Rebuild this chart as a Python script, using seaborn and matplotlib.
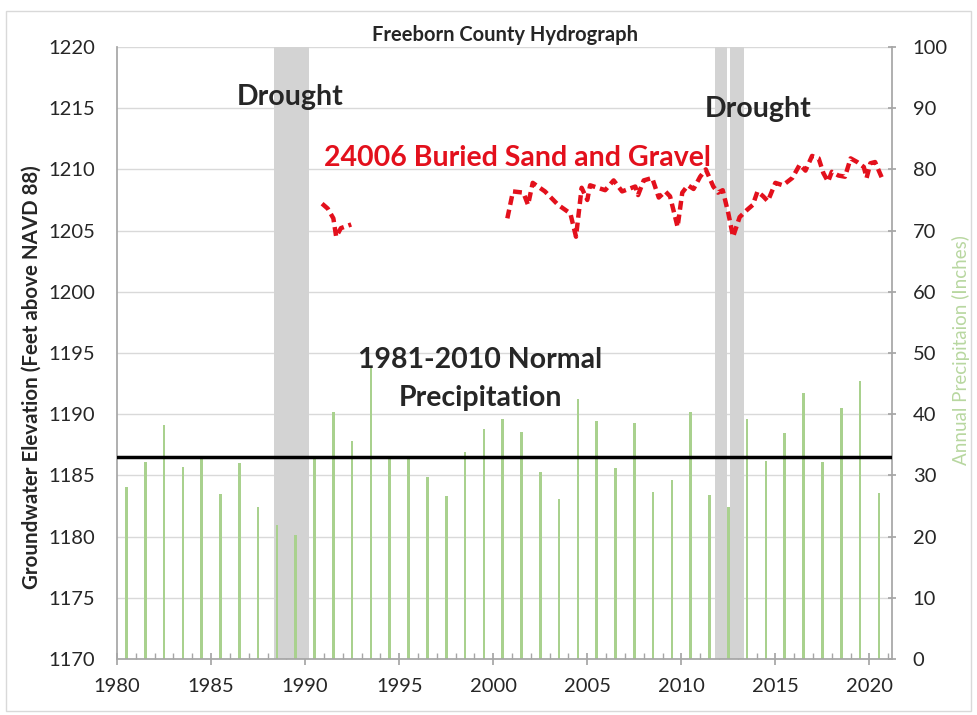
import numpy as np
import pandas as pd
import matplotlib.pyplot as plt
import matplotlib.ticker as mticker
from matplotlib.patches import Rectangle
import seaborn as sns

# annual precipitation (inches), bars sit mid-year
precip_years = list(range(1980, 2021))
precip_inches = [28.1, 32.2, 38.2, 31.4, 32.8, 27.0, 32.0, 24.8, 21.9, 20.3,
                 32.8, 40.4, 35.6, 47.5, 32.8, 32.8, 29.7, 26.6, 33.8, 37.6,
                 39.2, 37.1, 30.6, 26.1, 42.5, 38.9, 31.2, 38.6, 27.3, 29.2,
                 40.4, 26.8, 24.8, 39.2, 32.4, 36.9, 43.5, 32.2, 41.0, 45.4,
                 27.1]
normal_precip = 33.0

# well 24006 groundwater elevation (ft above NAVD 88)
well_t1 = [1990.9, 1991.2, 1991.5, 1991.65, 1991.9, 1992.45]
well_e1 = [1207.2, 1206.8, 1206.0, 1204.5, 1205.2, 1205.5]
well_t2 = [2000.75, 2001.05, 2001.6, 2001.85, 2002.1, 2002.75, 2003.45, 2004.1,
           2004.4, 2004.7, 2005.0, 2005.15, 2005.95, 2006.4, 2006.85, 2007.55,
           2007.7, 2008.0, 2008.45, 2008.8, 2009.15, 2009.4, 2009.8, 2010.05,
           2010.35, 2010.65, 2011.0, 2011.3, 2011.7, 2011.95, 2012.2, 2012.5,
           2012.75, 2013.1, 2013.5, 2013.8, 2014.05, 2014.35, 2014.6, 2015.0,
           2015.4, 2015.9, 2016.3, 2016.6, 2016.95, 2017.3, 2017.55, 2017.8,
           2018.0, 2018.35, 2018.7, 2019.0, 2019.35, 2019.7, 2019.85, 2020.05,
           2020.3, 2020.75]
well_e2 = [1206.0, 1208.2, 1208.1, 1207.1, 1208.9, 1208.2, 1207.1, 1206.4,
           1204.5, 1208.5, 1207.5, 1208.7, 1208.3, 1209.1, 1208.2, 1208.6,
           1207.9, 1209.1, 1209.3, 1207.7, 1208.2, 1207.8, 1205.3, 1208.1,
           1208.7, 1208.4, 1209.4, 1210.0, 1208.6, 1208.1, 1208.3, 1206.4,
           1204.5, 1206.1, 1206.7, 1207.1, 1208.2, 1207.8, 1207.4, 1208.9,
           1208.7, 1209.3, 1210.4, 1209.9, 1211.1, 1210.9, 1209.7, 1209.0,
           1209.8, 1209.5, 1209.4, 1210.9, 1210.6, 1210.2, 1209.3, 1210.5,
           1210.6, 1209.0]

drought_spans = [(1988.35, 1990.2), (2011.8, 2012.45), (2012.6, 2013.35)]

sns.set_theme(style="white")
plt.rcParams['font.family'] = ['Lato', 'DejaVu Sans']

fig = plt.figure(figsize=(9.77, 7.15), dpi=100)
fig.patches.append(Rectangle((0.006, 0.006), 0.988, 0.978, transform=fig.transFigure,
                             fill=False, edgecolor='#d9d9d9', lw=1))
ax = fig.add_axes([0.1198, 0.0783, 0.7932, 0.8560])

precip_df = pd.DataFrame({'year': np.array(precip_years) + 0.5, 'precip': precip_inches})

for x0, x1 in drought_spans:
    ax.axvspan(x0, x1, color='#d3d3d3', lw=0, zorder=1)

sns.barplot(data=precip_df, x='year', y='precip', native_scale=True, width=0.14,
            color='#a9d18e', saturation=1, linewidth=0, edgecolor='none', ax=ax, zorder=2)
ax.axhline(normal_precip, color='black', lw=2.5, zorder=3)

ax.set_xlim(1980, 2021.2)
ax.set_ylim(0, 100)
ax.yaxis.set_major_locator(mticker.MultipleLocator(10))
ax.xaxis.set_major_locator(mticker.MultipleLocator(5))
ax.xaxis.set_minor_locator(mticker.MultipleLocator(1))
ax.xaxis.set_major_formatter(mticker.FormatStrFormatter('%d'))
ax.grid(axis='y', color='#d9d9d9', lw=1)
ax.set_axisbelow(True)
ax.set_xlabel('')
ax.tick_params(axis='x', which='major', direction='inout', length=8, color='#a6a6a6',
               labelsize=14.5, bottom=True, pad=10)
ax.tick_params(axis='x', which='minor', direction='in', length=4, color='#a6a6a6', bottom=True)
for s in ['left', 'bottom', 'right']:
    ax.spines[s].set_color('#a6a6a6')
ax.spines['top'].set_visible(False)

ax2 = ax.twinx()
seg1 = pd.DataFrame({'t': well_t1, 'elev': well_e1})
seg2 = pd.DataFrame({'t': well_t2, 'elev': well_e2})
for seg in (seg1, seg2):
    sns.lineplot(data=seg, x='t', y='elev', ax=ax2, color='#e3101c', lw=3.2,
                 linestyle=(0, (2.0, 1.1)))
ax2.set_ylim(1170, 1220)
ax2.yaxis.set_major_locator(mticker.MultipleLocator(5))
ax2.set_xlabel('')
for s in ax2.spines.values():
    s.set_visible(False)

# swap sides: precipitation on the right, elevation on the left
ax.yaxis.tick_right()
ax.yaxis.set_label_position('right')
ax.set_ylabel('Annual Precipitaion (Inches)', color='#b8d7a0', fontsize=13.5,
              rotation=90, va='center', ha='center')
ax.yaxis.set_label_coords(1.089, 0.505)
ax.tick_params(axis='y', direction='inout', length=6, color='#a6a6a6', labelsize=14.5,
               right=True, left=False, labelright=True, labelleft=False, pad=12)
ax2.yaxis.tick_left()
ax2.yaxis.set_label_position('left')
ax2.set_ylabel('Groundwater Elevation (Feet above NAVD 88)', fontsize=14.8,
               fontweight='bold', rotation=90, va='center', ha='center')
ax2.yaxis.set_label_coords(-0.11, 0.46)
ax2.tick_params(axis='y', length=0, labelsize=14.5, left=True, right=False,
                labelleft=True, labelright=False, pad=16)

ax2.set_title('Freeborn County Hydrograph', fontsize=14.5, fontweight='bold', pad=4)
ax2.text(1989.2, 1215.9, 'Drought', fontsize=20.5, fontweight='bold', ha='center', va='center')
ax2.text(2014.1, 1214.9, 'Drought', fontsize=20.5, fontweight='bold', ha='center', va='center')
ax2.text(2001.3, 1210.9, '24006 Buried Sand and Gravel', fontsize=20.5, fontweight='bold',
         color='#e3101c', ha='center', va='center')
ax2.text(1999.3, 1194.4, '1981-2010 Normal', fontsize=20.5, fontweight='bold',
         ha='center', va='center')
ax2.text(1999.3, 1191.3, 'Precipitation', fontsize=20.5, fontweight='bold',
         ha='center', va='center')

fig.savefig('out.png', dpi=100)
